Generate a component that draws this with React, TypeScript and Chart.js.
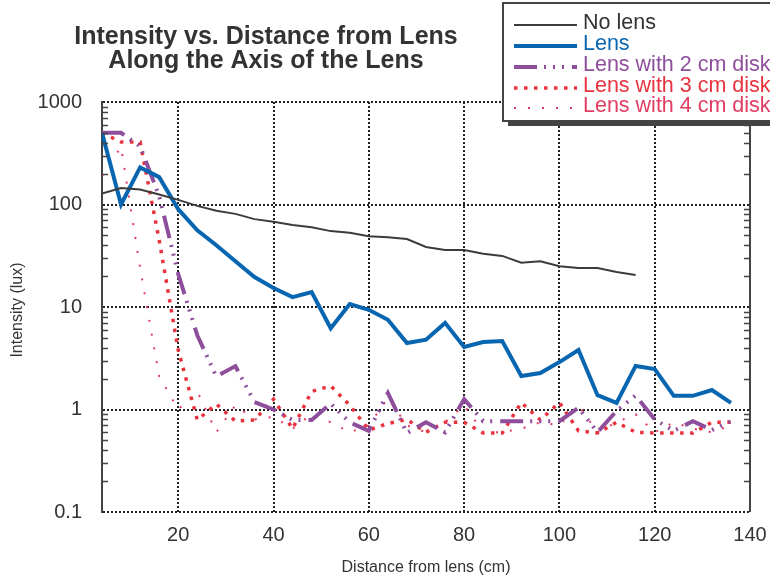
import React, { useEffect, useRef } from "react";
import { Chart, registerables } from "chart.js";

Chart.register(...registerables);

const FONT = "'Liberation Sans', Arial, Helvetica, sans-serif";

const titleLines = ["Intensity vs. Distance from Lens", "Along the Axis of the Lens"];
const xAxisTitle = "Distance from lens (cm)";
const yAxisTitle = "Intensity (lux)";

const distances = [4, 8, 12, 16, 20, 24, 28, 32, 36, 40, 44, 48, 52, 56, 60, 64, 68, 72, 76, 80, 84, 88, 92, 96, 100, 104, 108, 112, 116, 120, 124, 128, 132, 136];

const noLens = [128, 145, 140, 125, 111, 97, 87, 81, 72, 68, 63, 60, 55, 53, 49, 48, 46, 38.5, 36, 36, 33, 31.5, 27, 28, 25, 24, 24, 22, 20.5];
const lens = [500, 100, 230, 185, 90, 56, 40, 28, 19.6, 15.3, 12.5, 14, 6.2, 10.7, 9.4, 7.5, 4.45, 4.8, 7.0, 4.07, 4.55, 4.65, 2.12, 2.27, 2.9, 3.8, 1.38, 1.16, 2.66, 2.48, 1.36, 1.36, 1.55, 1.16];
const disk2 = [500, 500, 370, 121, 21, 5.3, 2.1, 2.65, 1.18, 1.0, 0.79, 0.79, 1.14, 0.75, 0.62, 1.45, 0.59, 0.75, 0.6, 1.26, 0.77, 0.77, 0.77, 0.77, 0.77, 1.04, 0.6, 0.97, 1.37, 0.8, 0.62, 0.77, 0.63, 0.77];
const disk3 = [500, 407, 407, 45, 3.8, 0.79, 1.13, 0.77, 0.79, 1.26, 0.65, 1.5, 1.7, 1.1, 0.63, 0.73, 0.8, 0.6, 0.75, 0.75, 0.59, 0.59, 1.17, 0.79, 1.17, 0.62, 0.59, 0.75, 0.6, 0.59, 0.59, 0.59, 0.75, 0.75];
const disk4 = [190, 365, 24, 2.1, 1.0, 1.5, 0.6, 1.1, 0.8, 0.85, 0.65, 0.9, 0.75, 0.6, 0.7, 1.3, 0.7, 0.6, 0.75, 1.1, 0.6, 0.6, 0.65, 0.75, 0.7, 1.1, 0.6, 0.75, 0.9, 0.6, 0.75, 0.65, 0.6, 0.7];

const xTicks = [20, 40, 60, 80, 100, 120, 140];
const yTicks = [0.1, 1, 10, 100, 1000];
const yDecades = [0.1, 1, 10, 100];
const minorMultipliers = [2, 3, 4, 5, 6, 7, 8, 9];

const seriesNames = ["No lens", "Lens", "Lens with 2 cm disk", "Lens with 3 cm disk", "Lens with 4 cm disk"];
const seriesValues = [noLens, lens, disk2, disk3, disk4];
const seriesColors = ["#3c3c3c", "#0866b0", "#8e4e9c", "#e8333f", "#e23c62"];
const seriesWidths = [2, 4, 4, 3.5, 2];
const seriesDash = [[], [], [23, 7, 2, 7, 2, 7, 2, 8], [3.5, 6.5], [2, 12]];

const decorPlugin = {
  id: "decor",
  afterDraw(chart: any) {
    const { ctx, chartArea } = chart;
    const { left, right, top, bottom } = chartArea;
    const y = chart.scales.y;
    ctx.save();
    ctx.setLineDash([]);
    // right axis (solid)
    ctx.strokeStyle = "#444";
    ctx.lineWidth = 2;
    ctx.beginPath();
    ctx.moveTo(right, top);
    ctx.lineTo(right, bottom);
    ctx.stroke();
    // minor ticks on left and right axes
    ctx.lineWidth = 1.5;
    for (const d of yDecades) {
      for (const k of minorMultipliers) {
        const py = Math.round(y.getPixelForValue(d * k)) + 0.5;
        ctx.beginPath();
        ctx.moveTo(left, py);
        ctx.lineTo(left + 6, py);
        ctx.moveTo(right, py);
        ctx.lineTo(right - 6, py);
        ctx.stroke();
      }
    }
    // title
    ctx.fillStyle = "#333";
    ctx.textAlign = "center";
    ctx.textBaseline = "middle";
    ctx.font = `bold 25px ${FONT}`;
    ctx.fillText(titleLines[0], 266, 37);
    ctx.fillText(titleLines[1], 266, 61);
    // axis titles
    ctx.font = `16px ${FONT}`;
    ctx.fillText(xAxisTitle, (left + right) / 2, 568);
    ctx.save();
    ctx.translate(18, 310);
    ctx.rotate(-Math.PI / 2);
    ctx.fillText(yAxisTitle, 0, 0);
    ctx.restore();
    // legend box with shadow
    ctx.fillStyle = "#444";
    ctx.fillRect(508, 8, 280, 118);
    ctx.fillStyle = "#fff";
    ctx.fillRect(503, 3, 280, 118);
    ctx.strokeStyle = "#444";
    ctx.lineWidth = 2;
    ctx.strokeRect(503, 3, 280, 118);
    const rowY = [25, 46, 67, 88, 108];
    ctx.textAlign = "left";
    ctx.textBaseline = "alphabetic";
    ctx.font = `21.5px ${FONT}`;
    seriesNames.forEach((name, i) => {
      ctx.strokeStyle = seriesColors[i];
      ctx.lineWidth = seriesWidths[i];
      ctx.setLineDash(seriesDash[i]);
      ctx.beginPath();
      ctx.moveTo(514, rowY[i]);
      ctx.lineTo(577, rowY[i]);
      ctx.stroke();
      ctx.setLineDash([]);
      ctx.fillStyle = i === 0 ? "#333" : seriesColors[i];
      ctx.fillText(name, 583, rowY[i] + 4);
    });
    ctx.restore();
  },
};

export default function App() {
  const canvasRef = useRef<HTMLCanvasElement | null>(null);

  useEffect(() => {
    const canvas = canvasRef.current;
    if (!canvas) return;
    const datasets = seriesNames.map((name, i) => ({
      label: name,
      data: seriesValues[i].map((v, j) => ({ x: distances[j], y: v })),
      borderColor: seriesColors[i],
      backgroundColor: seriesColors[i],
      borderWidth: seriesWidths[i],
      borderDash: seriesDash[i],
      borderCapStyle: "butt" as const,
      borderJoinStyle: "miter" as const,
      pointRadius: 0,
      tension: 0,
      fill: false,
    }));
    const chart = new Chart(canvas, {
      type: "line",
      data: { datasets },
      options: {
        animation: false,
        responsive: false,
        maintainAspectRatio: false,
        devicePixelRatio: 1,
        layout: { padding: { top: 102, left: 0, right: 20, bottom: 0 } },
        plugins: {
          legend: { display: false },
          title: { display: false },
          tooltip: { enabled: false },
        },
        scales: {
          x: {
            type: "linear",
            min: 4,
            max: 140,
            afterBuildTicks: (s: any) => {
              s.ticks = xTicks.map((v) => ({ value: v }));
            },
            afterFit: (s: any) => {
              s.height = 68;
              s.paddingLeft = 0;
              s.paddingRight = 0;
            },
            grid: { color: "#222", lineWidth: 2, drawTicks: false },
            border: { display: false, dash: [2, 2] },
            ticks: {
              color: "#333",
              font: { size: 20, family: FONT },
              padding: 11,
              maxRotation: 0,
              autoSkip: false,
              callback: (v: any) => String(v),
            },
          },
          y: {
            type: "logarithmic",
            min: 0.1,
            max: 1000,
            afterBuildTicks: (s: any) => {
              s.ticks = yTicks.map((v) => ({ value: v }));
            },
            afterFit: (s: any) => {
              s.width = 102;
              s.paddingTop = 0;
              s.paddingBottom = 0;
            },
            grid: { color: "#222", lineWidth: 2, drawTicks: false },
            border: { display: true, color: "#444", width: 2, dash: [2, 2] },
            ticks: {
              color: "#333",
              font: { size: 20, family: FONT },
              padding: 20,
              autoSkip: false,
              callback: (v: any) => String(v),
            },
          },
        },
      },
      plugins: [decorPlugin],
    });
    return () => chart.destroy();
  }, []);

  return (
    <div style={{ position: "absolute", left: 0, top: 0, width: 770, height: 580, background: "#fff" }}>
      <canvas ref={canvasRef} width={770} height={580} style={{ display: "block", width: 770, height: 580 }} />
    </div>
  );
}
